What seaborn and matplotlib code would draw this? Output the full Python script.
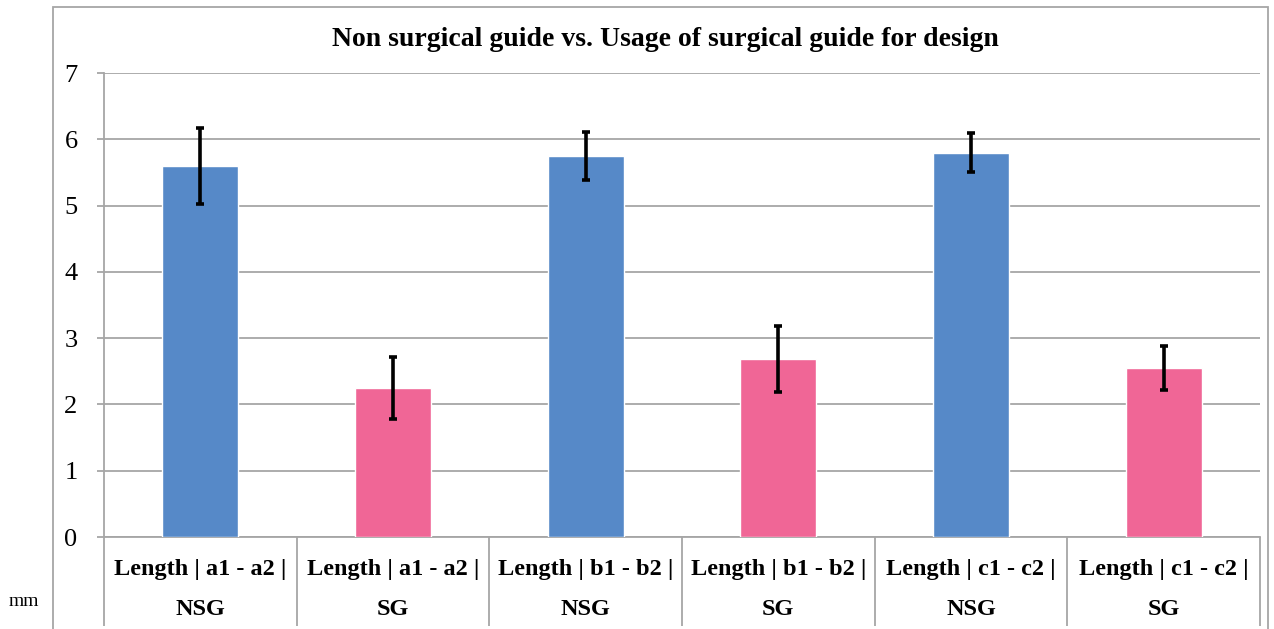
import numpy as np
import pandas as pd
import matplotlib
matplotlib.use("Agg")
import matplotlib.pyplot as plt
from matplotlib.patches import Rectangle
import seaborn as sns

# ---- data ----
categories = ["Length | a1 - a2 |\nNSG", "Length | a1 - a2 |\nSG",
              "Length | b1 - b2 |\nNSG", "Length | b1 - b2 |\nSG",
              "Length | c1 - c2 |\nNSG", "Length | c1 - c2 |\nSG"]
groups = ["NSG", "SG", "NSG", "SG", "NSG", "SG"]
means = [5.60, 2.25, 5.75, 2.68, 5.80, 2.55]
errors = [0.57, 0.47, 0.36, 0.50, 0.29, 0.33]
yticks = [0, 1, 2, 3, 4, 5, 6, 7]
title = "Non surgical guide vs. Usage of surgical guide for design"
unit_label = "mm"

BLUE = "#5689C8"
PINK = "#F06696"
GRID = "#A6A6A6"

sns.set_style("white")
plt.rcParams["font.family"] = ["Liberation Serif", "DejaVu Serif"]
plt.rcParams["text.color"] = "black"
plt.rcParams["xtick.color"] = "black"
plt.rcParams["ytick.color"] = "black"

W, H = 1274, 629
fig = plt.figure(figsize=(W / 100, H / 100), dpi=100)
ax = fig.add_axes([104 / W, 1 - 537 / H, (1260 - 104) / W, (537 - 73) / H])

df = pd.DataFrame({"cat": categories, "group": groups, "mean": means, "err": errors})
sns.barplot(data=df, x="cat", y="mean", hue="group",
            palette={"NSG": BLUE, "SG": PINK}, dodge=False, width=0.395,
            errorbar=None, legend=False, ax=ax, saturation=1, zorder=3)

xpos = np.arange(len(categories))
ax.errorbar(xpos, df["mean"], yerr=df["err"], fmt="none", ecolor="black",
            elinewidth=2.6, capsize=3, capthick=2.6, zorder=4)

ax.set_ylim(0, 7)
ax.set_xlim(-0.5, len(categories) - 0.5)
ax.set_yticks(yticks)
ax.set_yticklabels([str(t) for t in yticks], fontsize=19)
ax.yaxis.grid(True, color=GRID, linewidth=1.3, zorder=0)
ax.set_axisbelow(True)

ax.set_xticks(xpos)
ax.set_xticklabels(categories, fontsize=17.5, fontweight="bold", linespacing=2.15)
ax.set_xticks(np.arange(-0.5, len(categories)), minor=True)
ax.tick_params(axis="x", which="major", bottom=True, length=0, pad=16)
ax.tick_params(axis="x", which="minor", bottom=True, length=64, width=1.3,
               color=GRID, direction="out")
ax.tick_params(axis="y", which="major", left=True, length=5, width=1.3,
               color=GRID, labelcolor="black", direction="out", pad=14)

for s in ["top", "right"]:
    ax.spines[s].set_visible(False)
for s in ["left", "bottom"]:
    ax.spines[s].set_color(GRID)
    ax.spines[s].set_linewidth(1.3)
ax.set_xlabel("")
ax.set_ylabel("")

fig.text(665 / W, 1 - 40 / H, title, ha="center", va="center",
         fontsize=20, fontweight="bold")
fig.text(24 / W, 1 - 602 / H, unit_label, ha="center", va="center", fontsize=14)

fig.add_artist(Rectangle((53 / W, -0.05), (1268 - 53) / W, 1 - 7 / H + 0.05,
                         transform=fig.transFigure, fill=False,
                         edgecolor=GRID, linewidth=1.3))

fig.savefig("out.png", dpi=100, facecolor="white")
